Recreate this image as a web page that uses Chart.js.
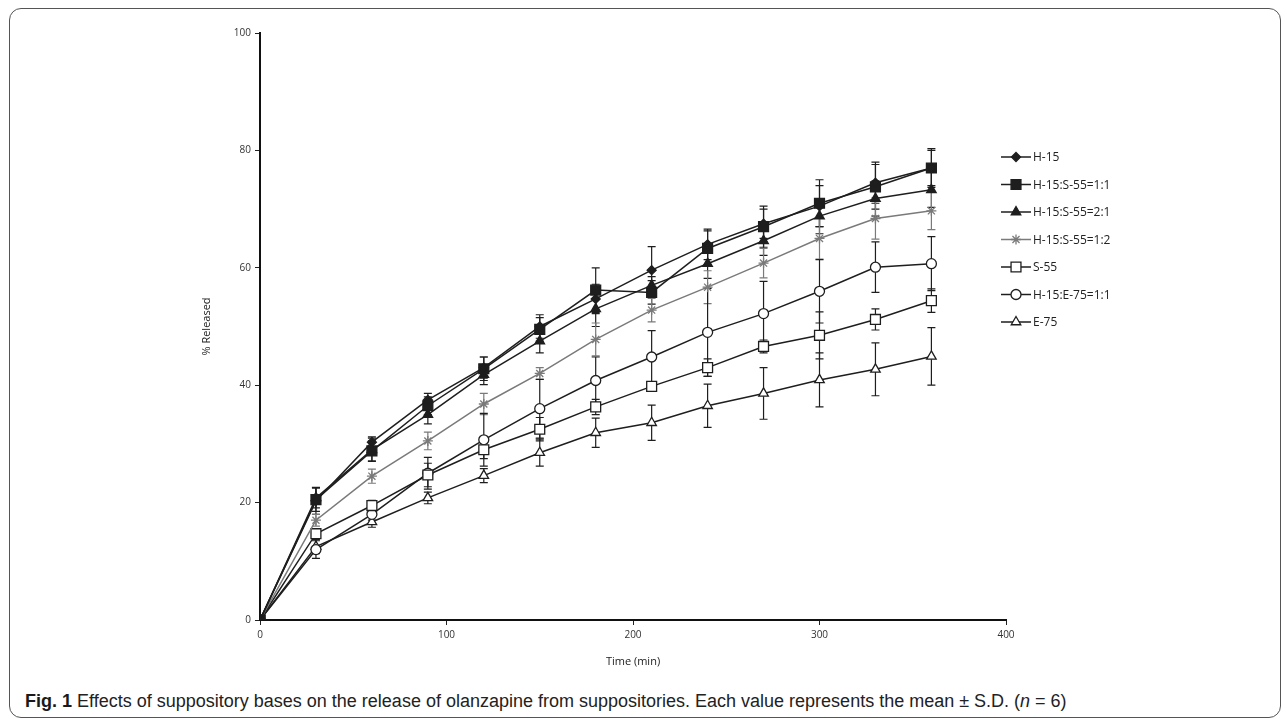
<!DOCTYPE html>
<html>
<head>
<meta charset="utf-8">
<script src="https://cdn.jsdelivr.net/npm/chart.js@4"></script>
<style>
  body { margin: 0; background: #fff; }
  #frame { position: absolute; left: 9px; top: 8px; width: 1270px; height: 708px; border: 1px solid #555; border-radius: 12px; }
  #myChart { position: absolute; left: 0; top: 0; }
  #caption { position: absolute; left: 25px; top: 692px; line-height: 18px; font-family: "Liberation Sans", sans-serif; font-size: 18px; color: #222; white-space: nowrap; }
  #caption b { color: #1a1a1a; }
</style>
</head>
<body>
<div id="frame"></div>
<canvas id="myChart" width="1287" height="690"></canvas>
<div id="caption"><b>Fig. 1</b> Effects of suppository bases on the release of olanzapine from suppositories. Each value represents the mean ± S.D. (<i>n</i> = 6)</div>
<script>
// 시간 (min)
const times = [0, 30, 60, 90, 120, 150, 180, 210, 240, 270, 300, 330, 360];

// % released (mean)
const h15      = [0, 20.3, 30.3, 37.5, 43.0, 50.0, 54.7, 59.6, 64.0, 67.5, 70.5, 74.5, 77.0];
const h15s55_11 = [0, 20.5, 28.8, 36.5, 42.8, 49.5, 56.2, 55.8, 63.3, 67.0, 71.0, 73.8, 77.0];
const h15s55_21 = [0, 20.8, 29.0, 35.0, 41.8, 47.5, 53.0, 57.0, 60.7, 64.6, 68.8, 71.8, 73.3];
const h15s55_12 = [0, 17.0, 24.5, 30.5, 36.8, 42.0, 47.8, 52.8, 56.7, 60.8, 65.0, 68.4, 69.7];
const s55      = [0, 14.7, 19.5, 24.7, 29.0, 32.5, 36.3, 39.8, 43.0, 46.6, 48.5, 51.2, 54.4];
const h15e75   = [0, 12.0, 18.0, 25.0, 30.7, 36.0, 40.8, 44.8, 49.0, 52.2, 56.0, 60.1, 60.7];
const e75      = [0, 12.5, 16.7, 20.8, 24.6, 28.5, 31.9, 33.6, 36.5, 38.6, 40.9, 42.7, 44.9];

// S.D.
const h15Sd       = [0, 2.3, 0.9, 1.1, 1.8, 2.0, 2.5, 4.0, 2.6, 2.5, 3.5, 3.5, 3.0];
const h15s55_11Sd = [0, 2.0, 1.7, 1.5, 2.0, 2.0, 3.8, 2.0, 3.0, 3.5, 4.0, 3.8, 3.3];
const h15s55_21Sd = [0, 1.7, 2.0, 1.6, 1.7, 2.0, 3.0, 1.5, 2.5, 2.5, 3.0, 3.0, 3.0];
const h15s55_12Sd = [0, 1.0, 1.2, 1.5, 1.8, 1.0, 2.8, 2.0, 2.8, 2.5, 3.5, 3.5, 3.2];
const s55Sd       = [0, 0.8, 0.9, 2.0, 1.5, 2.0, 1.3, 0.8, 1.5, 1.1, 4.0, 1.8, 2.0];
const h15e75Sd    = [0, 1.5, 1.0, 2.7, 4.5, 5.0, 4.0, 4.5, 7.5, 5.5, 5.4, 4.3, 4.6];
const e75Sd       = [0, 1.2, 0.9, 1.0, 1.2, 2.3, 2.5, 3.0, 3.7, 4.4, 4.6, 4.5, 4.9];

const labels = ['H-15', 'H-15:S-55=1:1', 'H-15:S-55=2:1', 'H-15:S-55=1:2', 'S-55', 'H-15:E-75=1:1', 'E-75'];
const means = [h15, h15s55_11, h15s55_21, h15s55_12, s55, h15e75, e75];
const sds = [h15Sd, h15s55_11Sd, h15s55_21Sd, h15s55_12Sd, s55Sd, h15e75Sd, e75Sd];

const dark = '#1e1e1e';
const gray = '#7a7a7a';
const styles = [
  { pointStyle: 'rectRot', radius: 4.5, fill: dark, color: dark },
  { pointStyle: 'rect', radius: 7, fill: dark, color: dark },
  { pointStyle: 'triangle', radius: 5.5, fill: dark, color: dark },
  { pointStyle: 'star', radius: 5, fill: gray, color: gray },
  { pointStyle: 'rect', radius: 7, fill: '#fff', color: dark },
  { pointStyle: 'circle', radius: 5, fill: '#fff', color: dark },
  { pointStyle: 'triangle', radius: 5.5, fill: '#fff', color: dark },
];

const datasets = labels.map((label, i) => ({
  label: label,
  data: times.map((t, j) => ({ x: t, y: means[i][j] })),
  borderColor: styles[i].color,
  backgroundColor: styles[i].fill,
  pointBackgroundColor: styles[i].fill,
  pointBorderColor: styles[i].color,
  pointStyle: styles[i].pointStyle,
  pointRadius: styles[i].radius,
  pointBorderWidth: 1.3,
  borderWidth: 1.5,
  tension: 0,
}));

// 오차 막대
const errorBars = {
  id: 'errorBars',
  beforeDatasetsDraw(chart) {
    const ctx = chart.ctx;
    const xs = chart.scales.x, ys = chart.scales.y;
    chart.data.datasets.forEach((ds, i) => {
      ctx.save();
      ctx.strokeStyle = ds.borderColor;
      ctx.lineWidth = 1.2;
      ds.data.forEach((p, j) => {
        const sd = sds[i][j];
        if (!sd) return;
        const px = xs.getPixelForValue(p.x);
        const top = ys.getPixelForValue(p.y + sd);
        const bot = ys.getPixelForValue(p.y - sd);
        ctx.beginPath();
        ctx.moveTo(px, top); ctx.lineTo(px, bot);
        ctx.moveTo(px - 4, top); ctx.lineTo(px + 4, top);
        ctx.moveTo(px - 4, bot); ctx.lineTo(px + 4, bot);
        ctx.stroke();
      });
      ctx.restore();
    });
  }
};

// 범례 (선 + 마커)
const lineLegend = {
  id: 'lineLegend',
  afterDraw(chart) {
    const ctx = chart.ctx;
    chart.data.datasets.forEach((ds, i) => {
      const y = 157 + i * 27.5;
      ctx.save();
      ctx.strokeStyle = ds.borderColor;
      ctx.lineWidth = 1.5;
      ctx.beginPath();
      ctx.moveTo(1001, y); ctx.lineTo(1031, y);
      ctx.stroke();
      ctx.fillStyle = ds.pointBackgroundColor;
      ctx.strokeStyle = ds.pointBorderColor;
      ctx.lineWidth = 1.3;
      Chart.helpers.drawPoint(ctx, { pointStyle: ds.pointStyle, radius: ds.pointRadius, borderWidth: 1.3 }, 1016, y);
      ctx.fillStyle = '#222';
      ctx.font = '12px "Open Sans", sans-serif';
      ctx.textBaseline = 'middle';
      ctx.fillText(ds.label, 1033, y + 1);
      ctx.restore();
    });
  }
};

const tickFont = { family: '"Open Sans", sans-serif', size: 10 };

new Chart(document.getElementById('myChart'), {
  type: 'line',
  data: { datasets: datasets },
  plugins: [errorBars, lineLegend],
  options: {
    responsive: false,
    animation: false,
    layout: { padding: { left: 200, right: 281, top: 33, bottom: 22 } },
    plugins: { legend: { display: false }, tooltip: { enabled: false } },
    scales: {
      x: {
        type: 'linear',
        min: 0, max: 400,
        ticks: { stepSize: 100, color: '#333', font: tickFont, padding: 4 },
        grid: { drawOnChartArea: false, tickLength: 5, color: '#222' },
        border: { color: '#111', width: 2 },
        title: { display: true, text: 'Time (min)', color: '#222', font: { family: '"Open Sans", sans-serif', size: 11 }, padding: 0 },
        afterFit(scale) { scale.height = 48; }
      },
      y: {
        min: 0, max: 100,
        ticks: { stepSize: 20, color: '#333', font: tickFont, padding: 4 },
        grid: { drawOnChartArea: false, tickLength: 5, color: '#222' },
        border: { color: '#111', width: 2 },
        title: { display: true, text: '% Released', color: '#222', font: { family: '"Open Sans", sans-serif', size: 11 }, padding: 0 },
        afterFit(scale) { scale.width = 60; }
      }
    }
  }
});
</script>
</body>
</html>
